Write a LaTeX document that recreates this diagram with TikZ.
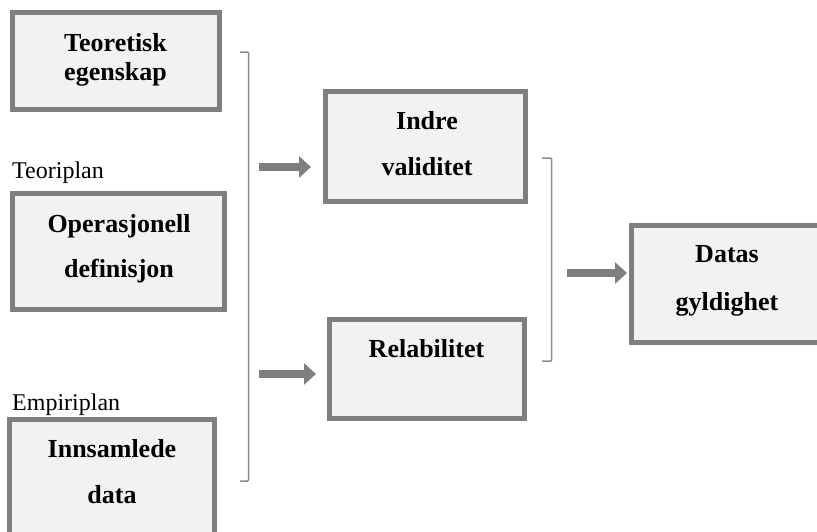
\documentclass[tikz,border=0pt]{standalone}
\usepackage{fontspec}
\setmainfont{Liberation Serif}
\usetikzlibrary{arrows.meta}
\definecolor{boxgray}{HTML}{7F7F7F}
\definecolor{boxfill}{HTML}{F2F2F2}
\definecolor{bracegray}{HTML}{8C8C8C}

\begin{document}
\begin{tikzpicture}[x=1pt,y=1pt,yscale=-1,xscale=1,
  box/.style={draw=boxgray,fill=boxfill,line width=5pt,inner sep=0pt},
  boxtext/.style={anchor=base,align=center,inner sep=0pt,font=\fontsize{26}{29}\selectfont\bfseries},
  plantext/.style={anchor=base west,inner sep=0pt,font=\fontsize{24}{28}\selectfont},
  bigarrow/.style={draw=boxgray,line width=8pt,-{Triangle[length=12pt,width=21pt]}},
  brace/.style={draw=bracegray,line width=1.5pt,rounded corners=1pt}]
\useasboundingbox (0,0) rectangle (817,531);
\clip (0,0) rectangle (817,531);
% boxes
\node[box,minimum width=207pt,minimum height=97pt] (teo) at (116,61) {};
\node[box,minimum width=212pt,minimum height=116pt] (ope) at (118.5,251.5) {};
\node[box,minimum width=205pt,minimum height=150pt] (inn) at (112,494.5) {};
\node[box,minimum width=200pt,minimum height=110pt] (ind) at (425.5,146.5) {};
\node[box,minimum width=195pt,minimum height=99pt] (rel) at (427,369) {};
\node[box,minimum width=200pt,minimum height=117pt] (dat) at (731.5,284) {};
% texts (anchored at the last baseline)
\node[boxtext] (teotxt) at (115.5,80) {Teoretisk\\egenskap};
\node[boxtext] (opetxt) at (119,277) {Operasjonell\\[16pt]definisjon};
\node[boxtext] (inntxt) at (112,503) {Innsamlede\\[17pt]data};
\node[boxtext] (indtxt) at (427,175) {Indre\\[17pt]validitet};
\node[boxtext] (reltxt) at (426.5,357) {Relabilitet};
\node[boxtext] (dattxt) at (727,310) {Datas\\[19pt]gyldighet};
\node[plantext] (teoplan) at (12,178) {Teoriplan};
\node[plantext] (empplan) at (12,410) {Empiriplan};
% brackets
\draw[brace] (240,52) -- (248.5,52) -- (248.5,481) -- (240,481);
\draw[brace] (542,158) -- (551.5,158) -- (551.5,361) -- (542,361);
% arrows
\coordinate (a1s) at (259,167);
\coordinate (a1e) at (311,167);
\coordinate (a2s) at (259,374);
\coordinate (a2e) at (316,374);
\coordinate (a3s) at (567,273);
\coordinate (a3e) at (627,273);
\draw[bigarrow] (a1s) -- (a1e);
\draw[bigarrow] (a2s) -- (a2e);
\draw[bigarrow] (a3s) -- (a3e);
\end{tikzpicture}
\end{document}
